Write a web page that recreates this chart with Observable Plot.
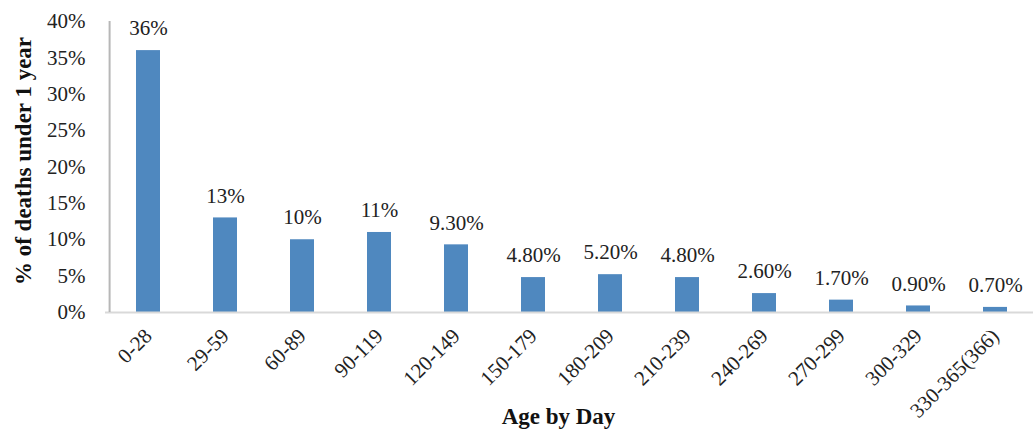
<!DOCTYPE html>
<html>
<head>
<meta charset="utf-8">
<script src="https://cdn.jsdelivr.net/npm/d3@7"></script>
<script src="https://cdn.jsdelivr.net/npm/@observablehq/plot@0.6"></script>
<style>
  html, body { margin: 0; padding: 0; background: #fff; }
  svg, svg text { font-family: "Liberation Serif", "Times New Roman", serif !important; }
</style>
</head>
<body>
<div id="chart"></div>
<script>
const categories = ["0-28","29-59","60-89","90-119","120-149","150-179","180-209","210-239","240-269","270-299","300-329","330-365(366)"];
const values = [36, 13, 10, 11, 9.3, 4.8, 5.2, 4.8, 2.6, 1.7, 0.9, 0.7];
const valueLabels = ["36%","13%","10%","11%","9.30%","4.80%","5.20%","4.80%","2.60%","1.70%","0.90%","0.70%"];
const yTicks = [0, 5, 10, 15, 20, 25, 30, 35, 40];

const data = categories.map((c, i) => ({cat: c, value: values[i], label: valueLabels[i]}));
const font = '"Liberation Serif", "Times New Roman", serif';

const chart = Plot.plot({
  width: 1033,
  height: 431,
  marginTop: 21,
  marginBottom: 119,
  marginLeft: 105,
  marginRight: 0,
  style: {fontFamily: font, background: "#fff", overflow: "visible"},
  x: {domain: categories, range: [105, 1037], paddingInner: 0.69, paddingOuter: 0.345, label: null},
  y: {domain: [0, 40], label: null},
  marks: [
    Plot.barY(data, {x: "cat", y: "value", fill: "#4f88bf", inset: 0}),
    Plot.ruleY([0], {stroke: "#d9d9d9", strokeWidth: 2}),
    Plot.ruleX([categories[0]], {x: () => categories[0], y1: 0, y2: 40, dx: -38.9, stroke: "#b7b7b7", strokeWidth: 2}),
    Plot.text(data, {x: "cat", y: "value", text: "label", dy: -22, fontSize: 21, fill: "#222"}),
    Plot.axisY({ticks: yTicks, tickFormat: d => d + "%", tickSize: 0, tickPadding: 20, fontSize: 21, fill: "#222", label: null}),
    Plot.axisX({tickRotate: -45, tickSize: 0, tickPadding: 20, fontSize: 21, fill: "#222", label: null}),
    Plot.text(["% of deaths under 1 year"], {frameAnchor: "left", textAnchor: "middle", dx: -82, dy: -6, rotate: -90, fontSize: 23, fontWeight: "bold", fill: "#111"}),
    Plot.text(["Age by Day"], {x: () => categories[5], dx: 25, y: 0, dy: 104, fontSize: 23, fontWeight: "bold", fill: "#111"})
  ]
});
document.getElementById("chart").appendChild(chart);
</script>
</body>
</html>
